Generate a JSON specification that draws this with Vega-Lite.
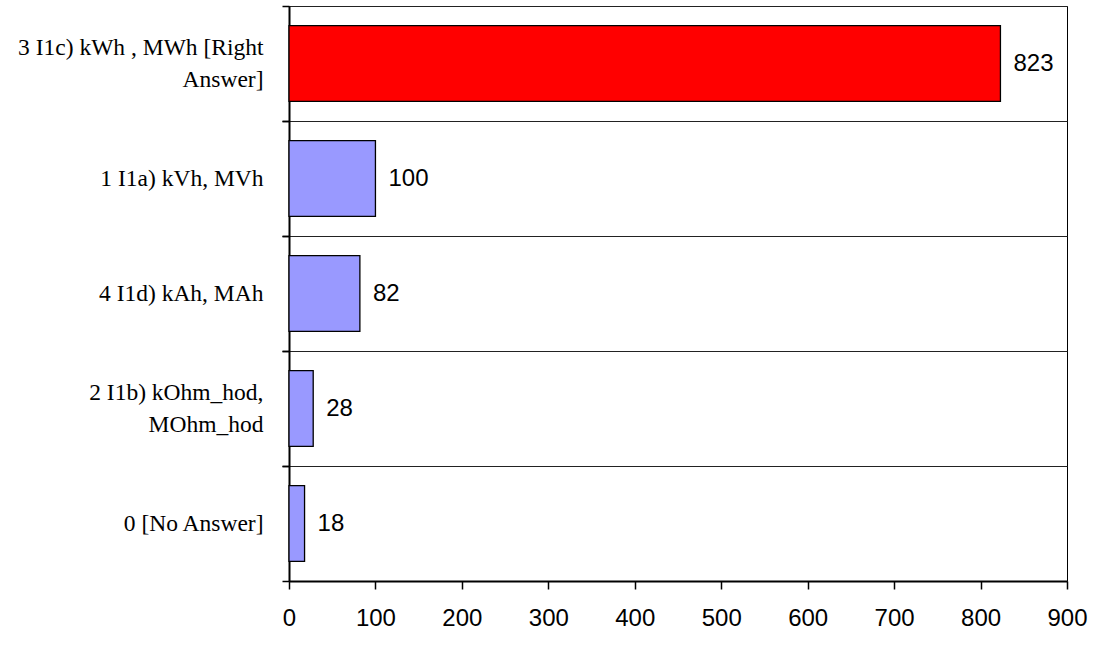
{
  "$schema": "https://vega.github.io/schema/vega-lite/v6.json",
  "width": 778,
  "height": 575,
  "autosize": {"type": "none"},
  "padding": {"left": 289, "top": 6, "right": 26, "bottom": 80},
  "background": "white",
  "config": {
    "view": {"stroke": "black", "strokeWidth": 1},
    "axis": {"domainColor": "black", "tickColor": "black", "labelColor": "black"}
  },
  "data": {
    "values": [
      {"answer": "3 I1c) kWh , MWh [Right Answer]", "count": 823, "kind": "right"},
      {"answer": "1 I1a) kVh, MVh", "count": 100, "kind": "wrong"},
      {"answer": "4 I1d) kAh, MAh", "count": 82, "kind": "wrong"},
      {"answer": "2 I1b) kOhm_hod, MOhm_hod", "count": 28, "kind": "wrong"},
      {"answer": "0 [No Answer]", "count": 18, "kind": "wrong"}
    ]
  },
  "resolve": {"axis": {"y": "independent"}},
  "encoding": {
    "x": {
      "field": "count",
      "type": "quantitative",
      "scale": {"domain": [0, 900], "nice": false},
      "axis": {
        "title": null,
        "values": [0, 100, 200, 300, 400, 500, 600, 700, 800, 900],
        "grid": false,
        "domainWidth": 2,
        "tickSize": 8,
        "tickWidth": 1.5,
        "labelFlush": false,
        "labelOverlap": false,
        "labelFont": "Liberation Sans",
        "labelFontSize": 24,
        "labelPadding": 17
      }
    }
  },
  "layer": [
    {
      "mark": {"type": "bar", "height": {"band": 0.66}, "stroke": "black", "strokeWidth": 1.3},
      "encoding": {
        "y": {
          "field": "answer",
          "type": "nominal",
          "sort": null,
          "scale": {"paddingInner": 0, "paddingOuter": 0},
          "axis": {
            "title": null,
            "orient": "left",
            "bandPosition": 0,
            "grid": true,
            "gridColor": "#222222",
            "gridWidth": 1,
            "gridOpacity": 1,
            "domainWidth": 2,
            "tickSize": 7,
            "tickWidth": 1.5,
            "labelFont": "Liberation Serif",
            "labelFontSize": 23.5,
            "labelPadding": 19,
            "labelLineHeight": 32,
            "labelLimit": 400,
            "labelOffset": {
              "condition": {"test": "indexof(datum.value, 'Right Answer') >= 0 || indexof(datum.value, 'kOhm_hod') >= 0", "value": -16},
              "value": 0
            },
            "labelExpr": "datum.value == '3 I1c) kWh , MWh [Right Answer]' ? ['3 I1c) kWh , MWh [Right', 'Answer]'] : datum.value == '2 I1b) kOhm_hod, MOhm_hod' ? ['2 I1b) kOhm_hod,', 'MOhm_hod'] : datum.value"
          }
        },
        "color": {
          "field": "kind",
          "type": "nominal",
          "scale": {"domain": ["right", "wrong"], "range": ["#FF0000", "#9999FF"]},
          "legend": null
        },
        "fillOpacity": {"value": 1}
      }
    },
    {
      "mark": {"type": "text", "align": "left", "baseline": "middle", "dx": 13, "font": "Liberation Sans", "fontSize": 24, "color": "black"},
      "encoding": {
        "text": {"field": "count", "type": "quantitative"},
        "y": {
          "field": "answer",
          "type": "nominal",
          "sort": null,
          "axis": {
            "title": null,
            "orient": "left",
            "offset": 0,
            "bandPosition": 1,
            "grid": false,
            "labels": false,
            "domain": false,
            "tickSize": 7,
            "tickWidth": 1.5
          }
        }
      }
    }
  ]
}
